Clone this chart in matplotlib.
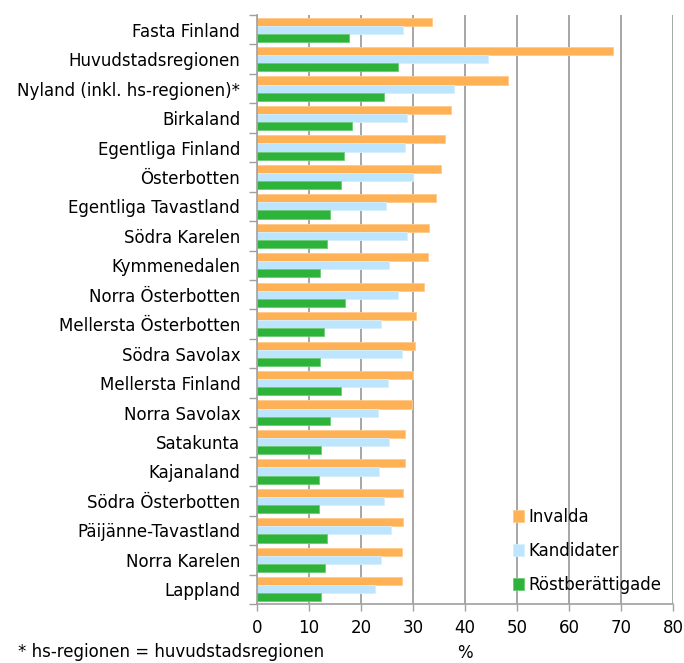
import matplotlib
matplotlib.use('Agg')
import matplotlib.pyplot as plt
import numpy as np

# Regions, top to bottom
regions = [
    'Fasta Finland', 'Huvudstadsregionen', 'Nyland (inkl. hs-regionen)*',
    'Birkaland', 'Egentliga Finland', 'Österbotten', 'Egentliga Tavastland',
    'Södra Karelen', 'Kymmenedalen', 'Norra Österbotten',
    'Mellersta Österbotten', 'Södra Savolax', 'Mellersta Finland',
    'Norra Savolax', 'Satakunta', 'Kajanaland', 'Södra Österbotten',
    'Päijänne-Tavastland', 'Norra Karelen', 'Lappland',
]

# Share of women, %
invalda = [33.7, 68.5, 48.3, 37.4, 36.1, 35.3, 34.4, 33.1, 32.8, 32.2,
           30.6, 30.3, 30.0, 29.8, 28.5, 28.5, 28.1, 28.1, 27.9, 27.9]
kandidater = [28.1, 44.5, 37.8, 28.8, 28.5, 30.0, 24.8, 28.8, 25.4, 27.2,
              23.8, 27.9, 25.1, 23.2, 25.4, 23.5, 24.4, 25.7, 23.8, 22.6]
rostberattigade = [17.7, 27.2, 24.4, 18.3, 16.8, 16.1, 14.0, 13.4, 12.1, 17.0,
                   12.8, 12.1, 16.1, 14.0, 12.4, 11.9, 11.9, 13.4, 13.1, 12.4]

series = [
    ('Invalda', invalda, '#FFB155', '#FFC98A'),
    ('Kandidater', kandidater, '#BDE5FD', '#D6EFFE'),
    ('Röstberättigade', rostberattigade, '#2DB23A', '#6CCB74'),
]
xticks = list(range(0, 81, 10))

fig = plt.figure(figsize=(6.84, 6.63), dpi=100)
ax = fig.add_axes([257 / 684, 1 - 604 / 663, 416 / 684, 589 / 663])

n = len(regions)
y = np.arange(n)
h = 0.275
for i, (name, vals, col, edge) in enumerate(series):
    ax.barh(y + (i - 1) * h, vals, height=h, color=col, edgecolor=edge,
            linewidth=0.6, label=name, zorder=3)

ax.set_ylim(n - 0.5, -0.5)
ax.set_xlim(0, 80)
ax.set_xticks(xticks)
ax.set_yticks(y)
ax.set_yticklabels(regions)
ax.set_yticks(np.arange(-0.5, n, 1), minor=True)
ax.tick_params(axis='y', which='major', length=0, pad=12, labelsize=12)
ax.tick_params(axis='y', which='minor', length=6, color='#A0A0A0', width=1)
ax.tick_params(axis='x', length=5, color='#A0A0A0', width=1, labelsize=12,
               pad=6)
ax.grid(axis='x', color='#A6A6A6', linewidth=1.4, zorder=0)
ax.set_axisbelow(True)
for s in ['top', 'right']:
    ax.spines[s].set_visible(False)
for s in ['left', 'bottom']:
    ax.spines[s].set_color('#A0A0A0')
    ax.spines[s].set_linewidth(1.2)
    ax.spines[s].set_zorder(4)

ax.set_xlabel('%', fontsize=12, labelpad=5)

leg = ax.legend(loc='lower right', bbox_to_anchor=(1.0, -0.002), frameon=False,
                fontsize=12, handlelength=0.7, handleheight=0.7,
                handletextpad=0.25, labelspacing=0.95, borderaxespad=0.3)

fig.text(18 / 684, 1 - 652 / 663, '* hs-regionen = huvudstadsregionen',
         fontsize=12, va='center', ha='left')

fig.savefig('out.png', dpi=100)
